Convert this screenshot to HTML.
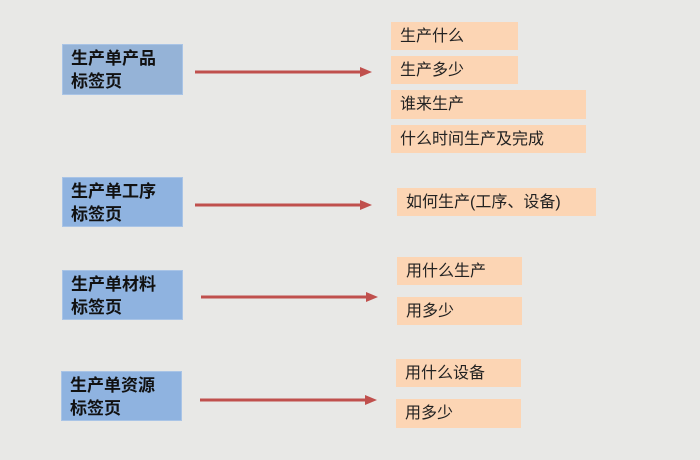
<!DOCTYPE html>
<html><head><meta charset="utf-8"><style>
body{margin:0;width:700px;height:460px;background:#e8e8e6;position:relative;overflow:hidden;font-family:"Liberation Sans","Noto Sans CJK SC",sans-serif;}
.b{position:absolute;background:#8fb3e0;border:1px solid #a9c4e6;box-sizing:border-box;font-weight:bold;font-size:17px;line-height:23px;padding:2px 0 0 8px;color:#111;}
.p{position:absolute;background:#fcd5b4;font-size:16px;line-height:30px;padding-left:9px;box-sizing:border-box;color:#222;}
svg{position:absolute;left:0;top:0}
</style></head><body>
<div class="b" style="left:62px;top:44px;width:121px;height:51px;background:#95b3d7">生产单产品<br>标签页</div>
<div class="b" style="left:62px;top:177px;width:121px;height:50px">生产单工序<br>标签页</div>
<div class="b" style="left:62px;top:270px;width:121px;height:50px">生产单材料<br>标签页</div>
<div class="b" style="left:61px;top:371px;width:121px;height:50px">生产单资源<br>标签页</div>
<svg width="700" height="460">
<g stroke="#c0504d" stroke-width="3" fill="#c0504d">
<line x1="195" y1="72" x2="362" y2="72"/><polygon points="360,67 372,72 360,77" stroke="none"/>
<line x1="195" y1="205" x2="362" y2="205"/><polygon points="360,200 372,205 360,210" stroke="none"/>
<line x1="201" y1="297" x2="368" y2="297"/><polygon points="366,292 378,297 366,302" stroke="none"/>
<line x1="200" y1="400" x2="367" y2="400"/><polygon points="365,395 377,400 365,405" stroke="none"/>
</g></svg>
<div class="p" style="left:391px;top:22px;width:127px;height:28px">生产什么</div>
<div class="p" style="left:391px;top:56px;width:127px;height:28px">生产多少</div>
<div class="p" style="left:391px;top:90px;width:195px;height:29px">谁来生产</div>
<div class="p" style="left:391px;top:125px;width:195px;height:28px">什么时间生产及完成</div>
<div class="p" style="left:397px;top:188px;width:199px;height:28px">如何生产(工序、设备)</div>
<div class="p" style="left:397px;top:257px;width:125px;height:28px">用什么生产</div>
<div class="p" style="left:397px;top:297px;width:125px;height:28px">用多少</div>
<div class="p" style="left:396px;top:359px;width:125px;height:28px">用什么设备</div>
<div class="p" style="left:396px;top:399px;width:125px;height:29px">用多少</div>
</body></html>
